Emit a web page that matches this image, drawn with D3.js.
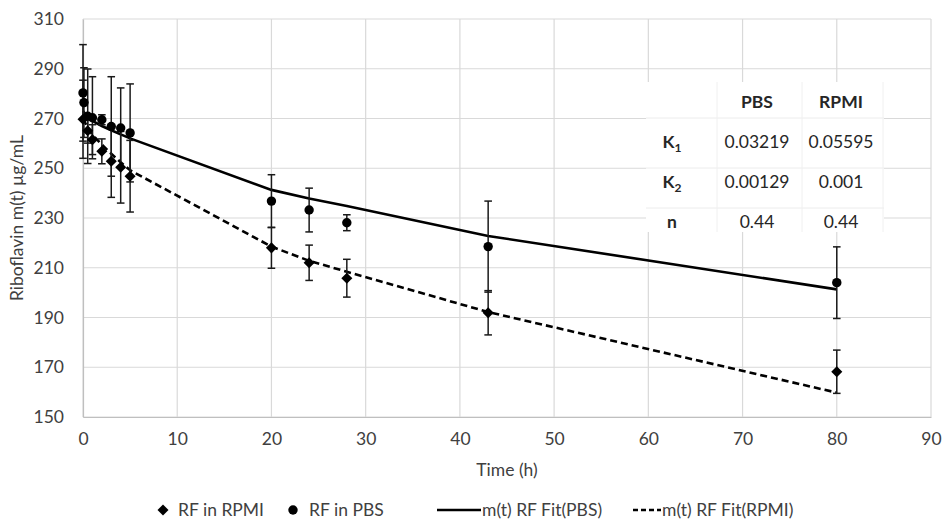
<!DOCTYPE html>
<html>
<head>
<meta charset="utf-8">
<script src="https://cdn.jsdelivr.net/npm/d3@7"></script>
<style>
  html, body { margin: 0; padding: 0; background: #fff; }
  svg { display: block; font-family: Lato, "Open Sans", sans-serif; }
</style>
</head>
<body>
<svg id="chart" width="943" height="522"></svg>
<script>
// ---- data ----
const pbsTime  = [0, 0.1, 0.5, 1, 2, 3, 4, 5, 20, 24, 28, 43, 80];
const pbsMean  = [280.3, 276.4, 270.9, 270.3, 269.5, 266.8, 266.2, 264.2, 236.8, 233.2, 228.1, 218.5, 204.0];
const pbsErr   = [19.4, 14.0, 19.0, 16.5, 2.0, 20.0, 16.1, 19.7, 10.6, 8.8, 3.2, 18.3, 14.4];

const rpmiTime = [0, 0.5, 1, 2, 3, 4, 5, 20, 24, 28, 43, 80];
const rpmiMean = [269.7, 265.1, 261.5, 256.8, 252.8, 250.4, 246.8, 218.0, 212.0, 205.8, 191.9, 168.2];
const rpmiErr  = [15.7, 5.0, 6.0, 5.0, 14.5, 14.4, 14.4, 8.2, 7.1, 7.6, 8.9, 8.7];

const fitTime  = [0, 0.5, 1, 2, 3, 4, 5, 20, 24, 28, 43, 80];
const pbsFit   = [273.0, 270.5, 269.0, 267.0, 265.3, 263.6, 262.0, 241.3, 237.8, 234.8, 222.8, 201.3];
const rpmiFit  = [270.0, 266.3, 263.5, 259.5, 255.8, 252.4, 249.2, 218.5, 212.8, 208.4, 192.2, 159.8];

const xTicks = [0, 10, 20, 30, 40, 50, 60, 70, 80, 90];
const yTicks = [150, 170, 190, 210, 230, 250, 270, 290, 310];

const tableHeader = ["", "PBS", "RPMI"];
const tableRows = [
  ["K", "1", "0.03219", "0.05595"],
  ["K", "2", "0.00129", "0.001"],
  ["n", "", "0.44", "0.44"]
];

const legendLabels = ["RF in RPMI", "RF in PBS", "m(t) RF Fit(PBS)", "m(t) RF Fit(RPMI)"];

// ---- layout ----
const svg = d3.select("#chart");
const x = d3.scaleLinear().domain([0, 90]).range([83, 931]);
const y = d3.scaleLinear().domain([150, 310]).range([417, 19]);
const gridCol = "#d9d9d9";
const textCol = "#404040";
const ink = "#000";
const fs = 17.5;

// gridlines
svg.append("g").selectAll("line.h").data(yTicks).join("line")
  .attr("x1", x(0)).attr("x2", x(90))
  .attr("y1", d => y(d)).attr("y2", d => y(d))
  .attr("stroke", gridCol).attr("stroke-width", 1.2);
svg.append("g").selectAll("line.v").data(xTicks).join("line")
  .attr("x1", d => x(d)).attr("x2", d => x(d))
  .attr("y1", y(150)).attr("y2", y(310))
  .attr("stroke", gridCol).attr("stroke-width", 1.2);

// axes (labels only, Excel style)
const xAxis = d3.axisBottom(x).tickValues(xTicks).tickSize(0).tickPadding(16);
const gx = svg.append("g").attr("transform", `translate(0,${y(150)})`).call(xAxis);
gx.select(".domain").attr("stroke", "#bfbfbf").attr("stroke-width", 1.2);
gx.selectAll("text").attr("fill", textCol).attr("font-size", fs).attr("font-family", "Lato");

const yAxis = d3.axisLeft(y).tickValues(yTicks).tickSize(0).tickPadding(19);
const gy = svg.append("g").attr("transform", `translate(${x(0)},0)`).call(yAxis);
gy.select(".domain").attr("stroke", "#bfbfbf").attr("stroke-width", 1.2);
gy.selectAll("text").attr("fill", textCol).attr("font-size", fs).attr("font-family", "Lato");

// axis titles
svg.append("text").attr("x", 507).attr("y", 476).attr("text-anchor", "middle")
  .attr("fill", textCol).attr("font-size", fs).text("Time (h)");
svg.append("text").attr("transform", "translate(23,218) rotate(-90)").attr("text-anchor", "middle")
  .attr("fill", textCol).attr("font-size", fs).text("Riboflavin m(t) µg/mL");

// table (white box over the grid)
const tb = svg.append("g");
tb.append("rect").attr("x", 646).attr("y", 82).attr("width", 238).attr("height", 150).attr("fill", "#fff");
[118, 168, 208].forEach(yy => tb.append("line").attr("x1", 646).attr("x2", 884).attr("y1", yy).attr("y2", yy)
  .attr("stroke", "#ececec"));
[717, 802, 883].forEach(xx => tb.append("line").attr("x1", xx).attr("x2", xx).attr("y1", 82).attr("y2", 232)
  .attr("stroke", "#f0f0f0"));
const colX = [672, 757, 841];
tableHeader.forEach((h, i) => {
  if (h) tb.append("text").attr("x", colX[i]).attr("y", 108).attr("text-anchor", "middle")
    .attr("font-weight", "bold").attr("font-size", fs).attr("fill", "#262626").text(h);
});
tableRows.forEach((r, j) => {
  const yy = 148 + j * 40;
  const t = tb.append("text").attr("x", colX[0]).attr("y", yy).attr("text-anchor", "middle")
    .attr("font-weight", "bold").attr("font-size", fs).attr("fill", "#262626");
  t.append("tspan").text(r[0]);
  if (r[1]) t.append("tspan").attr("dy", 4).attr("font-size", 12).text(r[1]);
  tb.append("text").attr("x", colX[1]).attr("y", yy).attr("text-anchor", "middle")
    .attr("font-size", fs).attr("fill", "#262626").text(r[2]);
  tb.append("text").attr("x", colX[2]).attr("y", yy).attr("text-anchor", "middle")
    .attr("font-size", fs).attr("fill", "#262626").text(r[3]);
});

// fit lines
const line = d3.line().x(d => x(d[0])).y(d => y(d[1]));
svg.append("path").datum(fitTime.map((t, i) => [t, pbsFit[i]])).attr("d", line)
  .attr("fill", "none").attr("stroke", ink).attr("stroke-width", 2.6);
svg.append("path").datum(fitTime.map((t, i) => [t, rpmiFit[i]])).attr("d", line)
  .attr("fill", "none").attr("stroke", ink).attr("stroke-width", 2.6).attr("stroke-dasharray", "7,4");

// error bars
function errBars(times, means, errs) {
  const g = svg.append("g").attr("stroke", "#1a1a1a").attr("stroke-width", 1.5);
  times.forEach((t, i) => {
    const cx = x(t), y1 = y(means[i] + errs[i]), y2 = y(means[i] - errs[i]);
    g.append("line").attr("x1", cx).attr("x2", cx).attr("y1", y1).attr("y2", y2);
    g.append("line").attr("x1", cx - 3.8).attr("x2", cx + 3.8).attr("y1", y1).attr("y2", y1);
    g.append("line").attr("x1", cx - 3.8).attr("x2", cx + 3.8).attr("y1", y2).attr("y2", y2);
  });
}
errBars(rpmiTime, rpmiMean, rpmiErr);
errBars(pbsTime, pbsMean, pbsErr);

// markers
const diamond = d3.symbol().type(d3.symbolDiamond2).size(78);
svg.append("g").selectAll("path").data(rpmiTime).join("path")
  .attr("d", diamond).attr("transform", (t, i) => `translate(${x(t)},${y(rpmiMean[i])})`)
  .attr("fill", ink);
svg.append("g").selectAll("circle").data(pbsTime).join("circle")
  .attr("cx", t => x(t)).attr("cy", (t, i) => y(pbsMean[i])).attr("r", 4.7)
  .attr("fill", ink);

// legend
const lg = svg.append("g").attr("font-size", fs).attr("fill", textCol);
const ly = 510;
lg.append("path").attr("d", diamond).attr("transform", `translate(163,${ly})`).attr("fill", ink);
lg.append("text").attr("x", 178).attr("y", ly + 6).text(legendLabels[0]);
lg.append("circle").attr("cx", 293).attr("cy", ly).attr("r", 4.7).attr("fill", ink);
lg.append("text").attr("x", 309).attr("y", ly + 6).text(legendLabels[1]);
lg.append("line").attr("x1", 437).attr("x2", 481).attr("y1", ly).attr("y2", ly)
  .attr("stroke", ink).attr("stroke-width", 2.6);
lg.append("text").attr("x", 482).attr("y", ly + 6).text(legendLabels[2]);
lg.append("line").attr("x1", 633).attr("x2", 661).attr("y1", ly).attr("y2", ly)
  .attr("stroke", ink).attr("stroke-width", 2.6).attr("stroke-dasharray", "5,3");
lg.append("text").attr("x", 662).attr("y", ly + 6).text(legendLabels[3]);
</script>
</body>
</html>
